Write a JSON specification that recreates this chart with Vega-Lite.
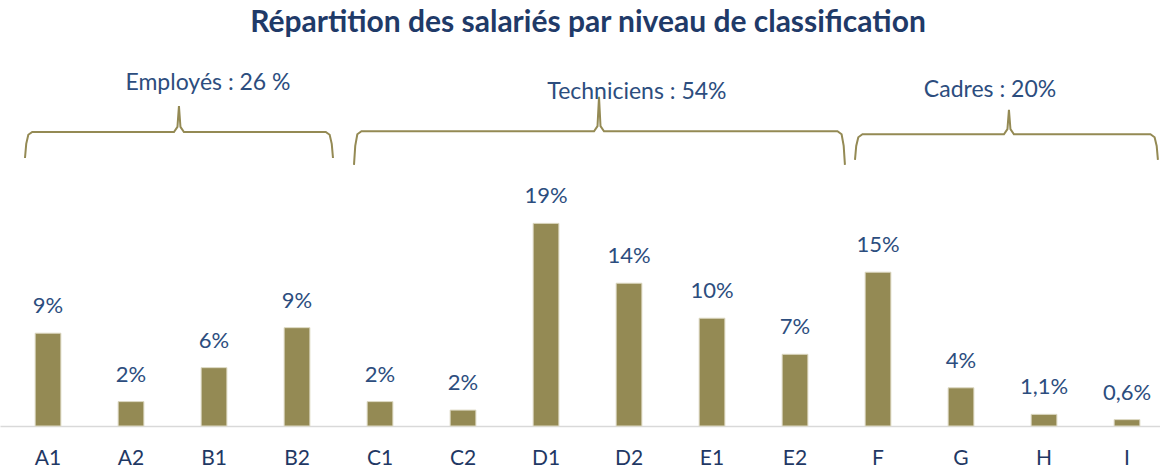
{
  "$schema": "https://vega.github.io/schema/vega-lite/v6.json",
  "width": 1160,
  "height": 366,
  "autosize": {"type": "none"},
  "padding": {"top": 60, "left": 0, "right": 0, "bottom": 46},
  "background": "white",
  "config": {"view": {"stroke": null}, "font": "Lato"},
  "title": {
    "text": "Répartition des salariés par niveau de classification",
    "font": "Lato",
    "fontSize": 30,
    "fontWeight": "bold",
    "color": "#1F3A68",
    "anchor": "middle",
    "baseline": "alphabetic",
    "dx": 8,
    "offset": -2
  },
  "datasets": {
    "bars": [
      {"niveau": "A1", "part": 8.75, "label": "9%"},
      {"niveau": "A2", "part": 2.3, "label": "2%"},
      {"niveau": "B1", "part": 5.5, "label": "6%"},
      {"niveau": "B2", "part": 9.27, "label": "9%"},
      {"niveau": "C1", "part": 2.3, "label": "2%"},
      {"niveau": "C2", "part": 1.5, "label": "2%"},
      {"niveau": "D1", "part": 19.1, "label": "19%"},
      {"niveau": "D2", "part": 13.46, "label": "14%"},
      {"niveau": "E1", "part": 10.16, "label": "10%"},
      {"niveau": "E2", "part": 6.76, "label": "7%"},
      {"niveau": "F", "part": 14.5, "label": "15%"},
      {"niveau": "G", "part": 3.6, "label": "4%"},
      {"niveau": "H", "part": 1.1, "label": "1,1%"},
      {"niveau": "I", "part": 0.6, "label": "0,6%"}
    ],
    "braces": [
      {"groupe": "Employés", "k": 1, "pos": -0.277, "val": 25.26},
      {"groupe": "Employés", "k": 2, "pos": -0.262, "val": 26.6},
      {"groupe": "Employés", "k": 3, "pos": -0.237, "val": 27.45},
      {"groupe": "Employés", "k": 4, "pos": -0.19, "val": 27.71},
      {"groupe": "Employés", "k": 5, "pos": 1.518, "val": 27.71},
      {"groupe": "Employés", "k": 6, "pos": 1.56, "val": 28.2},
      {"groupe": "Employés", "k": 7, "pos": 1.578, "val": 30.16},
      {"groupe": "Employés", "k": 8, "pos": 1.596, "val": 28.2},
      {"groupe": "Employés", "k": 9, "pos": 1.638, "val": 27.71},
      {"groupe": "Employés", "k": 10, "pos": 3.347, "val": 27.71},
      {"groupe": "Employés", "k": 11, "pos": 3.394, "val": 27.45},
      {"groupe": "Employés", "k": 12, "pos": 3.419, "val": 26.6},
      {"groupe": "Employés", "k": 13, "pos": 3.434, "val": 25.26},
      {"groupe": "Techniciens", "k": 1, "pos": 3.687, "val": 24.62},
      {"groupe": "Techniciens", "k": 2, "pos": 3.702, "val": 26.4},
      {"groupe": "Techniciens", "k": 3, "pos": 3.727, "val": 27.5},
      {"groupe": "Techniciens", "k": 4, "pos": 3.777, "val": 27.78},
      {"groupe": "Techniciens", "k": 5, "pos": 6.579, "val": 27.78},
      {"groupe": "Techniciens", "k": 6, "pos": 6.621, "val": 28.27},
      {"groupe": "Techniciens", "k": 7, "pos": 6.639, "val": 31.04},
      {"groupe": "Techniciens", "k": 8, "pos": 6.657, "val": 28.27},
      {"groupe": "Techniciens", "k": 9, "pos": 6.699, "val": 27.78},
      {"groupe": "Techniciens", "k": 10, "pos": 9.512, "val": 27.78},
      {"groupe": "Techniciens", "k": 11, "pos": 9.562, "val": 27.5},
      {"groupe": "Techniciens", "k": 12, "pos": 9.587, "val": 26.4},
      {"groupe": "Techniciens", "k": 13, "pos": 9.602, "val": 24.62},
      {"groupe": "Cadres", "k": 1, "pos": 9.723, "val": 25.09},
      {"groupe": "Cadres", "k": 2, "pos": 9.738, "val": 26.4},
      {"groupe": "Cadres", "k": 3, "pos": 9.763, "val": 27.22},
      {"groupe": "Cadres", "k": 4, "pos": 9.813, "val": 27.5},
      {"groupe": "Cadres", "k": 5, "pos": 11.518, "val": 27.5},
      {"groupe": "Cadres", "k": 6, "pos": 11.56, "val": 27.99},
      {"groupe": "Cadres", "k": 7, "pos": 11.578, "val": 29.81},
      {"groupe": "Cadres", "k": 8, "pos": 11.596, "val": 27.99},
      {"groupe": "Cadres", "k": 9, "pos": 11.638, "val": 27.5},
      {"groupe": "Cadres", "k": 10, "pos": 13.283, "val": 27.5},
      {"groupe": "Cadres", "k": 11, "pos": 13.333, "val": 27.22},
      {"groupe": "Cadres", "k": 12, "pos": 13.358, "val": 26.4},
      {"groupe": "Cadres", "k": 13, "pos": 13.373, "val": 25.09}
    ],
    "groupes": [
      {"texte": "Employés : 26 %", "pos": 1.928, "val": 32.36},
      {"texte": "Techniciens : 54%", "pos": 7.096, "val": 31.51},
      {"texte": "Cadres : 20%", "pos": 11.35, "val": 31.7}
    ]
  },
  "layer": [
    {
      "data": {"name": "bars"},
      "encoding": {
        "x": {
          "field": "niveau",
          "type": "nominal",
          "sort": null,
          "scale": {"paddingInner": 0.69, "paddingOuter": 0.333, "align": 0.636},
          "axis": {
            "title": null,
            "labelAngle": 0,
            "ticks": false,
            "domain": true,
            "domainColor": "#D9D9D9",
            "domainWidth": 1.5,
            "labelPadding": 21,
            "labelFont": "Lato",
            "labelFontSize": 21,
            "labelColor": "#1F3864"
          }
        },
        "y": {
          "field": "part",
          "type": "quantitative",
          "scale": {"domain": [0, 34.5], "nice": false, "zero": true},
          "axis": null
        }
      },
      "layer": [
        {
          "mark": {"type": "bar", "color": "#948A54", "stroke": "#DDD9C3", "strokeWidth": 1}
        },
        {
          "mark": {"type": "text", "baseline": "alphabetic", "dy": -20, "font": "Lato", "fontSize": 22, "color": "#2C4D7E"},
          "encoding": {"text": {"field": "label"}}
        }
      ]
    },
    {
      "data": {"name": "braces"},
      "mark": {"type": "line", "color": "#948A54", "strokeWidth": 2},
      "encoding": {
        "x": {"field": "pos", "type": "quantitative", "scale": {"domain": [-0.578, 13.398], "nice": false, "zero": false}, "axis": null},
        "y": {"field": "val", "type": "quantitative", "scale": {"domain": [0, 34.5], "nice": false}, "axis": null},
        "detail": {"field": "groupe"},
        "order": {"field": "k"}
      }
    },
    {
      "data": {"name": "groupes"},
      "mark": {"type": "text", "baseline": "middle", "font": "Lato", "fontSize": 23, "color": "#2C4D7E"},
      "encoding": {
        "x": {"field": "pos", "type": "quantitative", "scale": {"domain": [-0.578, 13.398], "nice": false, "zero": false}, "axis": null},
        "y": {"field": "val", "type": "quantitative", "scale": {"domain": [0, 34.5], "nice": false}, "axis": null},
        "text": {"field": "texte"}
      }
    }
  ],
  "resolve": {"scale": {"x": "independent"}, "axis": {"x": "independent"}}
}
